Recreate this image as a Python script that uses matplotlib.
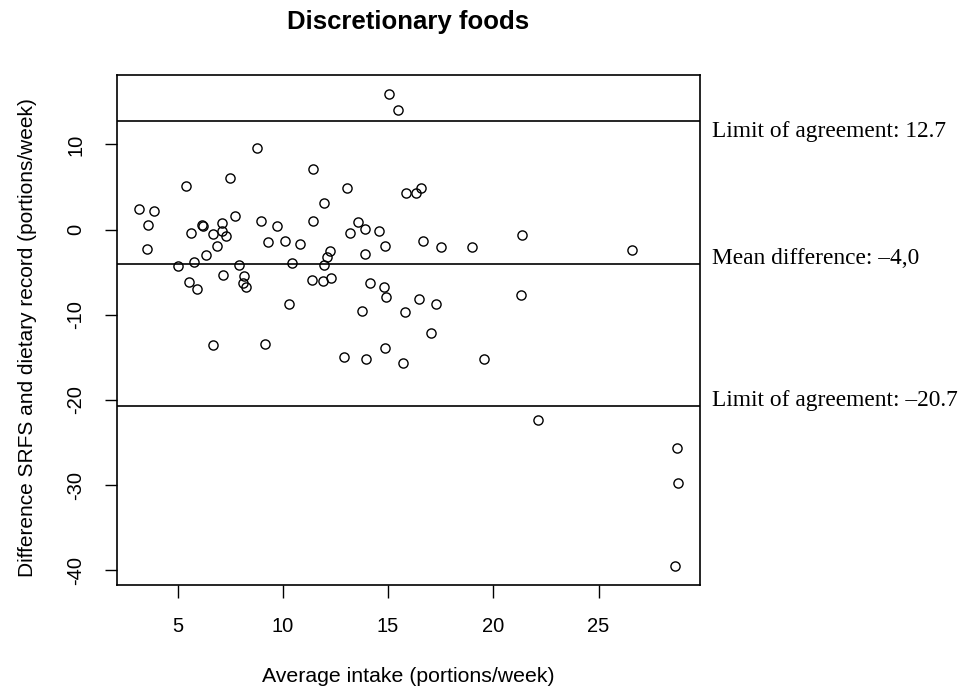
import matplotlib
matplotlib.use("Agg")
import matplotlib.pyplot as plt
import matplotlib.transforms as mtransforms

plt.rcParams['font.family'] = ['Liberation Sans', 'DejaVu Sans']
plt.rcParams['axes.unicode_minus'] = False

title = "Discretionary foods"
xlabel = "Average intake (portions/week)"
ylabel = "Difference SRFS and dietary record (portions/week)"

avg_intake = [8.76, 11.43, 5.41, 7.48, 3.15, 3.88, 3.61, 6.15, 6.23, 5.62,
              7.09, 7.72, 6.69, 7.09, 7.29, 6.88, 3.56, 8.95, 9.72, 9.28,
              10.10, 10.80, 11.43, 6.37, 5.80, 5.01, 7.92, 10.42, 5.54, 5.92,
              7.15, 8.18, 8.11, 8.25, 11.40, 10.29, 6.69, 9.14, 15.03, 15.49,
              13.06, 15.87, 16.33, 16.55, 11.97, 13.56, 13.91, 13.17, 14.59, 16.66,
              17.50, 18.97, 14.87, 12.24, 12.09, 11.97, 13.91, 11.89, 12.30, 14.15,
              14.81, 14.92, 16.47, 17.29, 13.75, 15.82, 17.05, 14.87, 12.93, 13.97,
              15.70, 19.55, 21.35, 26.60, 21.29, 22.12, 28.74, 28.79, 28.63]
difference = [9.55, 7.13, 5.06, 6.00, 2.46, 2.15, 0.57, 0.57, 0.38, -0.38,
              0.73, 1.56, -0.53, -0.21, -0.77, -1.87, -2.30, 1.04, 0.41, -1.48,
              -1.32, -1.67, 1.04, -2.98, -3.76, -4.28, -4.12, -3.92, -6.20, -7.00,
              -5.30, -5.50, -6.29, -6.68, -5.87, -8.73, -13.57, -13.38, 15.93, 14.04,
              4.87, 4.24, 4.24, 4.90, 3.13, 0.89, 0.06, -0.38, -0.21, -1.36,
              -1.99, -1.99, -1.87, -2.46, -3.25, -4.12, -2.82, -6.05, -5.69, -6.32,
              -6.68, -7.94, -8.14, -8.73, -9.55, -9.71, -12.12, -13.89, -14.99, -15.15,
              -15.62, -15.15, -0.69, -2.34, -7.66, -22.40, -25.60, -29.80, -39.50]

upper_loa = 12.7
mean_diff = -4.0
lower_loa = -20.7
line_labels = ["Limit of agreement: 12.7", "Mean difference: \u20134,0", "Limit of agreement: \u201320.7"]
label_y = [10.9, -4.0, -20.7]

xticks = [5, 10, 15, 20, 25]
yticks = [10, 0, -10, -20, -30, -40]

fig = plt.figure(figsize=(9.68, 6.89), dpi=100)
ax = fig.add_axes([117/968, 1 - 585/689, (700-117)/968, (585-75)/689])

ax.plot(avg_intake, difference, linestyle='none', marker='o', markersize=6.6,
        markerfacecolor='none', markeredgecolor='black', markeredgewidth=1.0)

for v in (upper_loa, mean_diff, lower_loa):
    ax.axhline(v, color='black', linewidth=1.2)

xmin, xmax = min(avg_intake), max(avg_intake)
ymin, ymax = min(difference), max(difference)
xr, yr = xmax - xmin, ymax - ymin
ax.set_xlim(xmin - 0.04*xr, xmax + 0.04*xr)
ax.set_ylim(ymin - 0.04*yr, ymax + 0.04*yr)

ax.set_xticks(xticks)
ax.set_xticklabels([str(t) for t in xticks])
ax.set_yticks(yticks)
ax.set_yticklabels([str(t) for t in yticks], rotation=90, va='center')
ax.tick_params(axis='both', direction='out', length=9, width=1.0, labelsize=14.5, pad=14, color='black')
for s in ax.spines.values():
    s.set_linewidth(1.2)

fig.text(408/968, 1 - 22/689, title, ha='center', va='center', fontsize=18.5, fontweight='bold')
fig.text(408/968, 1 - 677/689, xlabel, ha='center', va='center', fontsize=15.3)
fig.text(28/968, 1 - 338/689, ylabel, ha='center', va='center', fontsize=15, rotation=90)

trans = mtransforms.blended_transform_factory(fig.transFigure, ax.transData)
for lab, yv in zip(line_labels, label_y):
    ax.text(712/968, yv, lab, transform=trans, ha='left', va='baseline',
            fontsize=16.8, family=['Liberation Serif', 'DejaVu Serif'], clip_on=False)

fig.savefig("out.png", dpi=100)
